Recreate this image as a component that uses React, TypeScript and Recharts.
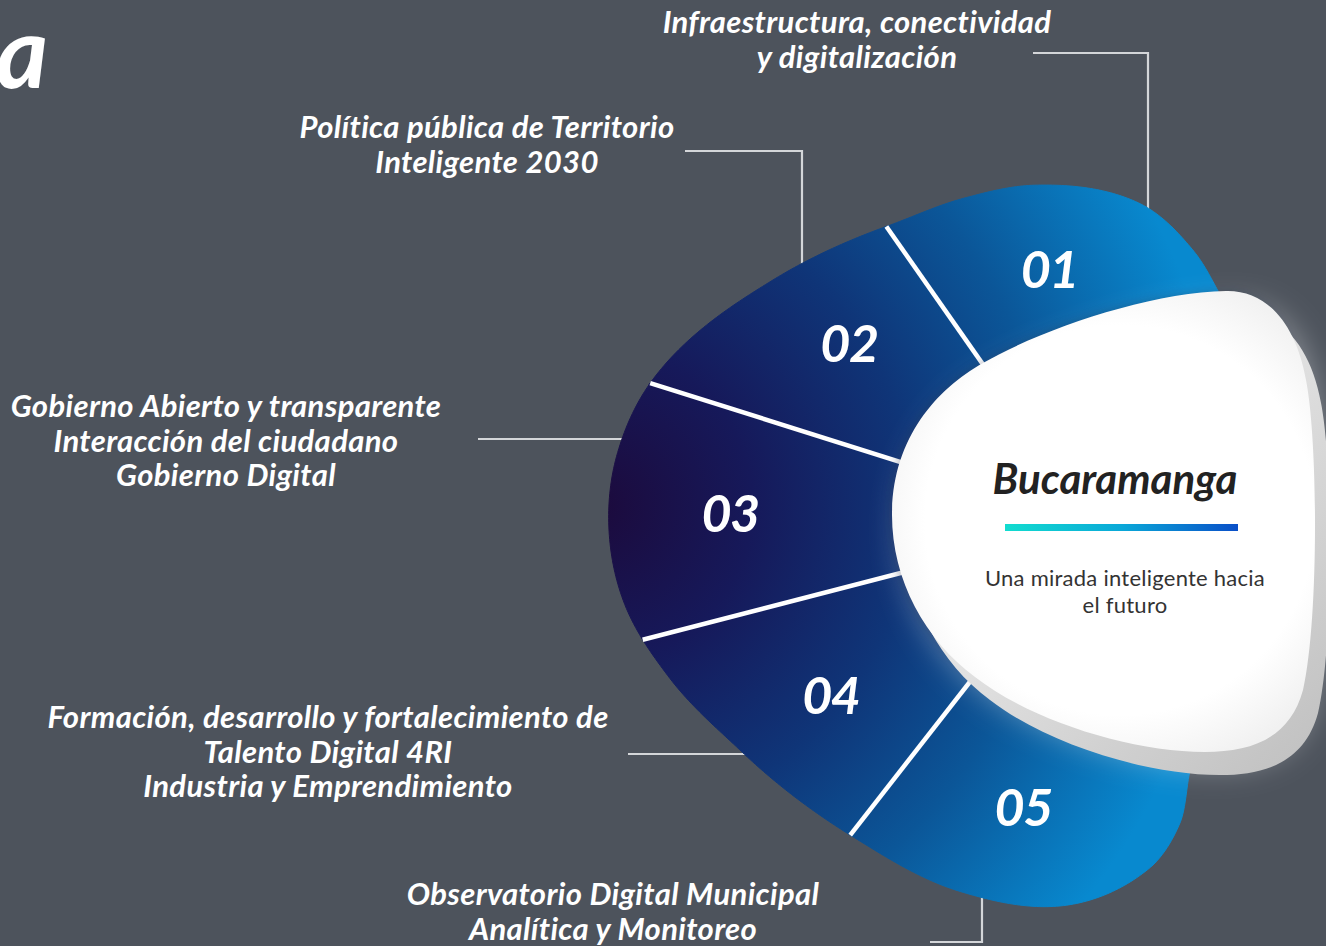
import React from 'react';
import { PieChart, Pie } from 'recharts';

// ---------- data ----------
const SEGMENT_IDS = ['01', '02', '03', '04', '05'];
// angular span (degrees) of each segment
const SEGMENT_SPANS = [50, 37.5, 32, 37.5, 48];
// the part of the ring hidden behind the white centre
const REMAINDER_SPAN = 155;
const SEGMENT_TITLES = [
  ['Infraestructura, conectividad', 'y digitalización'],
  ['Política pública de Territorio', 'Inteligente 2030'],
  ['Gobierno Abierto y transparente', 'Interacción del ciudadano', 'Gobierno Digital'],
  ['Formación, desarrollo y fortalecimiento de', 'Talento Digital 4RI', 'Industria y Emprendimiento'],
  ['Observatorio Digital Municipal', 'Analítica y Monitoreo'],
];
const CENTER_TITLE = 'Bucaramanga';
const CENTER_SUBTITLE = ['Una mirada inteligente hacia', 'el futuro'];
const CORNER_TITLE = 'a';

// ---------- layout / style ----------
const W = 1326;
const H = 946;
const CX = 1094;
const CY = 523;
const START_ANGLE = 75;
const BG = '#4d535c';
const FONT = "Lato, 'Open Sans', 'DejaVu Sans', sans-serif";
const NUMBER_RADIUS_FACTOR = 0.75;
// outline of the blob: [angle deg, radius px]
const RADIUS_PROFILE: [number, number][] = [
  [0, 180], [30, 192], [60, 258], [70, 290], [82, 323], [100, 343], [112, 350],
  [125, 362], [143, 403], [162, 464], [172, 482], [181, 485], [190, 476],
  [200, 452], [213, 420], [232, 396], [250, 392], [266, 383], [279, 350],
  [286, 312], [292, 262], [320, 200],
];
const LABEL_LAYOUT = [
  { x: 857, y: 33, leader: 'M1033 53 H1148 V220' },
  { x: 487, y: 138, leader: 'M685 151 H802 V290' },
  { x: 226, y: 417, leader: 'M478 439 H640' },
  { x: 328, y: 728, leader: 'M628 754 H750' },
  { x: 613, y: 905, leader: 'M930 942 H982 V880' },
];
const LINE_GAP = 34.5;
const WHITE_PATH =
  'M892 515 C892 440 935 390 983 363 C1040 330 1150 292 1226 291 ' +
  'C1268 290 1296 325 1306 380 C1318 440 1319 620 1303 690 ' +
  'C1290 738 1252 752 1205 752 C1130 752 1030 720 975 677 ' +
  'C925 640 892 580 892 515 Z';

const RAD = Math.PI / 180;

// smooth periodic interpolation of the outline (cubic Hermite with finite-difference tangents)
function blobRadius(deg: number): number {
  const n = RADIUS_PROFILE.length;
  const pt = (i: number): [number, number] => {
    const m = ((i % n) + n) % n;
    const wraps = Math.floor(i / n);
    return [RADIUS_PROFILE[m][0] + 360 * wraps, RADIUS_PROFILE[m][1]];
  };
  let a = ((deg % 360) + 360) % 360;
  if (a < RADIUS_PROFILE[0][0]) a += 360;
  let k = n - 1;
  for (let i = 0; i < n; i++) {
    if (a >= pt(i)[0] && a < pt(i + 1)[0]) { k = i; break; }
  }
  const [a0, r0] = pt(k);
  const [a1, r1] = pt(k + 1);
  const [am, rm] = pt(k - 1);
  const [a2, r2] = pt(k + 2);
  const h = a1 - a0;
  const m0 = (r1 - rm) / (a1 - am);
  const m1 = (r2 - r0) / (a2 - a0);
  const t = (a - a0) / h;
  const t2 = t * t, t3 = t2 * t;
  return (2 * t3 - 3 * t2 + 1) * r0 + (t3 - 2 * t2 + t) * h * m0 + (-2 * t3 + 3 * t2) * r1 + (t3 - t2) * h * m1;
}

function polar(cx: number, cy: number, r: number, deg: number): [number, number] {
  return [cx + r * Math.cos(-deg * RAD), cy + r * Math.sin(-deg * RAD)];
}

function blobSectorPath(cx: number, cy: number, a0: number, a1: number): string {
  const n = Math.max(2, Math.ceil(Math.abs(a1 - a0) * 2));
  let d = `M${cx},${cy}`;
  for (let i = 0; i <= n; i++) {
    const a = a0 + ((a1 - a0) * i) / n;
    const [x, y] = polar(cx, cy, blobRadius(a), a);
    d += ` L${x.toFixed(2)},${y.toFixed(2)}`;
  }
  return d + ' Z';
}

const pieData = [
  ...SEGMENT_IDS.map((id, i) => ({ name: id, value: SEGMENT_SPANS[i], lines: SEGMENT_TITLES[i] })),
  { name: '', value: REMAINDER_SPAN, lines: [] as string[] },
];

function Defs() {
  return (
    <defs>
      <radialGradient id="blobGrad" gradientUnits="userSpaceOnUse" cx={595} cy={505} r={630}>
        <stop offset="0" stopColor="#1c0a3c" />
        <stop offset="0.25" stopColor="#16195a" />
        <stop offset="0.5" stopColor="#0f3578" />
        <stop offset="0.72" stopColor="#0b5698" />
        <stop offset="1" stopColor="#0889cf" />
      </radialGradient>
      <linearGradient id="barGrad" x1="0" y1="0" x2="1" y2="0">
        <stop offset="0" stopColor="#12dccf" />
        <stop offset="0.5" stopColor="#0aa8d8" />
        <stop offset="1" stopColor="#0a4fc8" />
      </linearGradient>
      <linearGradient id="rimGrad" gradientUnits="userSpaceOnUse" x1={1000} y1={450} x2={1320} y2={780}>
        <stop offset="0" stopColor="#ececec" />
        <stop offset="1" stopColor="#bcbcbc" />
      </linearGradient>
      <radialGradient id="whiteGrad" gradientUnits="userSpaceOnUse" cx={1120} cy={520} r={260}>
        <stop offset="0.75" stopColor="#ffffff" />
        <stop offset="1" stopColor="#f1f1f1" />
      </radialGradient>
      <filter id="glow" x="-30%" y="-30%" width="160%" height="160%">
        <feGaussianBlur stdDeviation="16" />
      </filter>
      <filter id="soft" x="-10%" y="-10%" width="120%" height="120%">
        <feGaussianBlur stdDeviation="4" />
      </filter>
    </defs>
  );
}

const labelTextProps = {
  textAnchor: 'middle' as const,
  fontFamily: FONT,
  fontWeight: 700,
  fontStyle: 'italic',
  fontSize: 31,
  letterSpacing: 0.35,
  fill: '#ffffff',
};

function renderSegment(props: any) {
  const { cx, cy, startAngle, endAngle, midAngle, index, payload } = props;
  const fill = (
    <path
      d={blobSectorPath(cx, cy, startAngle - 0.3, endAngle + 0.3)}
      fill="url(#blobGrad)"
      stroke="url(#blobGrad)"
      strokeWidth={1}
    />
  );
  if (index >= SEGMENT_IDS.length) {
    // remainder + white centre on top
    return (
      <g key="rest">
        {fill}
        <path d={WHITE_PATH} transform="translate(10,14)" fill="#e8eaed" opacity={0.45} filter="url(#glow)" />
        <path d={WHITE_PATH} transform="translate(-3,0)" fill="#0a1a40" opacity={0.25} filter="url(#soft)" />
        <path d={WHITE_PATH} transform="translate(15,23)" fill="url(#rimGrad)" />
        <path d={WHITE_PATH} fill="url(#whiteGrad)" />
        <text x={1115} y={494} textAnchor="middle" fontFamily={FONT} fontWeight={700} fontStyle="italic" fontSize={42} fill="#222222">
          {CENTER_TITLE}
        </text>
        <rect x={1005} y={524} width={233} height={7} fill="url(#barGrad)" />
        {CENTER_SUBTITLE.map((s, i) => (
          <text key={i} x={1125} y={586 + i * 27} textAnchor="middle" fontFamily={FONT} fontSize={22} letterSpacing={0.25} fill="#333333">
            {s}
          </text>
        ))}
        <text x={48} y={88} textAnchor="end" fontFamily={FONT} fontWeight={700} fontStyle="italic" fontSize={100} fill="#ffffff">
          {CORNER_TITLE}
        </text>
      </g>
    );
  }
  const lay = LABEL_LAYOUT[index];
  const [sx, sy] = polar(cx, cy, blobRadius(startAngle), startAngle);
  const [nx, ny] = polar(cx, cy, blobRadius(midAngle) * NUMBER_RADIUS_FACTOR, midAngle);
  const numSize = 52;
  return (
    <g key={`seg-${index}`}>
      {index === 0 && <Defs />}
      <path d={lay.leader} fill="none" stroke="#d4d6d9" strokeWidth={2.2} />
      {(payload.lines as string[]).map((s, i) => (
        <text key={i} x={lay.x} y={lay.y + i * LINE_GAP} {...labelTextProps}>
          {s}
        </text>
      ))}
      {fill}
      {index > 0 && <line x1={cx} y1={cy} x2={sx} y2={sy} stroke="#ffffff" strokeWidth={4.5} />}
      <text
        x={nx}
        y={ny + numSize * 0.36}
        textAnchor="middle"
        fontFamily={FONT}
        fontWeight={700}
        fontStyle="italic"
        fontSize={numSize}
        letterSpacing={-1.5}
        fill="#ffffff"
      >
        {payload.name}
      </text>
    </g>
  );
}

export default function App() {
  return (
    <div style={{ position: 'absolute', left: 0, top: 0, width: W, height: H, background: BG, overflow: 'hidden' }}>
      <PieChart width={W} height={H} margin={{ top: 0, right: 0, bottom: 0, left: 0 }}>
        <Pie
          data={pieData}
          dataKey="value"
          nameKey="name"
          cx={CX}
          cy={CY}
          innerRadius={0}
          outerRadius={300}
          startAngle={START_ANGLE}
          endAngle={START_ANGLE + 360}
          fill="transparent"
          stroke="none"
          label={renderSegment}
          labelLine={false}
          isAnimationActive={false}
        />
      </PieChart>
    </div>
  );
}
